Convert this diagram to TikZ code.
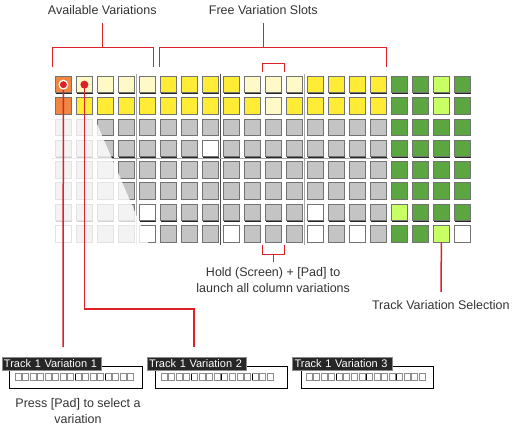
\documentclass[tikz,border=0pt]{standalone}
\usepackage{fontspec}
\setmainfont{Liberation Sans}
\usetikzlibrary{shadows}
\definecolor{cO}{RGB}{240,134,64}
\definecolor{cL}{RGB}{255,249,200}
\definecolor{cY}{RGB}{255,236,52}
\definecolor{cG}{RGB}{196,196,196}
\definecolor{cW}{RGB}{255,255,255}
\definecolor{cN}{RGB}{92,166,66}
\definecolor{cM}{RGB}{200,255,100}
\definecolor{redline}{RGB}{222,32,40}
\definecolor{txt}{RGB}{51,51,51}
\begin{document}
\begin{tikzpicture}[x=1pt,y=-1pt,
  pad/.style={draw=black!55, line width=0.8pt, minimum width=16pt, minimum height=16.5pt,
    inner sep=0pt, anchor=north west,
    drop shadow={shadow xshift=0.9pt, shadow yshift=-0.9pt, fill=black!85, opacity=1}},
  lbl/.style={text=txt, font=\fontsize{12.5}{16}\selectfont, inner sep=0pt},
  redthin/.style={draw=redline, line width=1pt},
  redthick/.style={draw=redline, line width=1.5pt},
  seqbox/.style={draw=black, line width=0.9pt, fill=white, anchor=north west,
    minimum width=133pt, minimum height=22.6pt, inner sep=0pt},
  tlabel/.style={fill=black!85, draw=black!45, line width=0.6pt, text=white, anchor=north west,
    font=\fontsize{11}{11}\selectfont, inner xsep=2pt, inner ysep=0pt,
    minimum height=12.2pt, text width=95.3pt, align=left},
  sq/.style={draw=black!45, line width=0.7pt, fill=white},
  stepmark/.style={draw=black, line width=1pt}
]
\useasboundingbox (0,0) rectangle (514,425);

% divider lines
\draw[black!35, line width=0.8pt] (136.5,74) -- (136.5,245);
\draw[black!70, line width=0.8pt] (220.5,74) -- (220.5,245);
\draw[black!35, line width=0.8pt] (304.5,74) -- (304.5,245);
\draw[black!35, line width=0.8pt] (52,158.8) -- (388,158.8);

% pads
\foreach \row [count=\r from 0] in {
  {O,L,L,L,L,Y,Y,Y,Y,L,L,L,Y,Y,Y,Y,N,N,M,N},
  {O,Y,Y,Y,Y,Y,Y,Y,Y,Y,L,Y,Y,Y,Y,Y,N,N,M,N},
  {G,G,G,G,G,G,G,G,G,G,G,G,G,G,G,G,N,N,N,N},
  {G,G,G,G,G,G,G,W,G,G,G,G,G,G,G,G,N,N,N,N},
  {G,G,G,G,G,G,G,G,G,G,G,G,G,G,G,G,N,N,N,N},
  {G,G,G,G,G,G,G,G,G,G,G,G,G,G,G,G,N,N,N,N},
  {G,G,G,G,W,G,G,G,G,G,G,G,W,G,G,G,M,N,N,N},
  {W,G,G,G,W,G,G,G,W,G,G,G,W,G,W,G,N,N,M,W}} {
  \foreach \c [count=\i from 0] in \row {
    \node[pad, fill=c\c] (p-\i-\r) at ({55+21*\i},{76+21.29*\r}) {};
  }
}

% fade overlay
\fill[white, opacity=0.8] (46,116) -- (93.6,116) -- (150.5,248) -- (46,248) -- cycle;

% top labels and brackets
\node[lbl] (av) at (102.3,10) {Available Variations};
\node[lbl] (fv) at (263.3,10) {Free Variation Slots};
\draw[redthin] (52.3,66.7) -- (52.3,47.3) -- (153.3,47.3) -- (153.3,66.7);
\draw[redthin] (102.3,47.3) -- (102.3,23.3);
\draw[redthin] (159.3,66.7) -- (159.3,47.3) -- (386.7,47.3) -- (386.7,66.7);
\draw[redthin] (263.3,47.3) -- (263.3,23.3);
\draw[redthin] (262,72.5) -- (262,63.3) -- (284.3,63.3) -- (284.3,72.5);

% bottom small bracket
\draw[redthin] (262,245) -- (262,254) -- (284.3,254) -- (284.3,245);
\draw[redthin] (273.2,254) -- (273.2,262.3);
\node[lbl, align=center] (hold) at (273.2,280) {Hold (Screen) + [Pad] to\\launch all column variations};

% track variation selection
\node[lbl] (tvs) at (440.8,305) {Track Variation Selection};
\coordinate (e3) at (441,292);
\draw[redthick] (p-18-7.south) -- (e3);

% sequence boxes
\node[seqbox] (b1) at (9.3,365.7) {};
\node[seqbox, minimum width=132pt] (b2) at (155.3,365.7) {};
\node[seqbox, minimum width=132.3pt] (b3) at (301,365.5) {};
\foreach \k in {0,...,15} \draw[sq] ({15+7.5*\k},373.8) rectangle +(6,6.3);
\foreach \k in {0,...,14} \draw[sq] ({161+7.6*\k},373.8) rectangle +(6,6.3);
\foreach \k in {0,...,15} \draw[sq] ({306+7.55*\k},373.8) rectangle +(6,6.3);
\foreach \k in {8,12} \draw[stepmark] ({15+7.5*\k},373.8) -- +(0,6.3);
\foreach \k in {4,8,12} \draw[stepmark] ({161+7.6*\k},373.8) -- +(0,6.3);
\foreach \k in {4,8,12} \draw[stepmark] ({306+7.55*\k},373.8) -- +(0,6.3);

\node[tlabel] (l1) at (1.7,357.3) {Track 1 Variation 1};
\node[tlabel] (l2) at (146.7,357.3) {Track 1 Variation 2};
\node[tlabel] (l3) at (292.3,357.3) {Track 1 Variation 3};

\node[lbl, align=center, font=\fontsize{12.5}{15.7}\selectfont] (press) at (78,411) {Press [Pad] to select a\\variation};

% red selection lines
\coordinate (e1) at (63,347);
\coordinate (bend) at (194,309);
\coordinate (e2) at (194,347);
\draw[redthick] (p-0-0.center) -- (e1);
\draw[redthick] (p-1-0.center) |- (bend) -- (e2);
\fill[white] (p-0-0.center) circle (5);
\fill[redline] (p-0-0.center) circle (3.5);
\fill[redline] (p-1-0.center) circle (4);
\end{tikzpicture}
\end{document}
